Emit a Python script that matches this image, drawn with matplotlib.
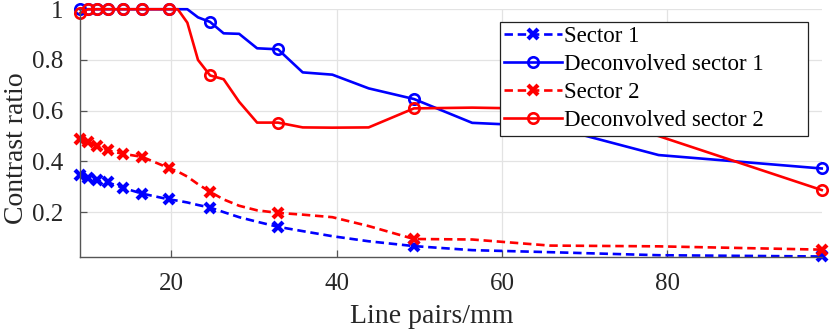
#!/usr/bin/env python3
"""Contrast ratio vs line pairs/mm for raw and deconvolved sectors."""

import matplotlib

matplotlib.use("Agg")

import matplotlib.pyplot as plt
from matplotlib.ticker import FormatStrFormatter

# sample positions (line pairs/mm); markers only on the main resolution steps
lp_mm = [8.97, 9.87, 10.97, 12.34, 14.10, 16.45, 19.74, 20.77, 21.93, 23.22,
         24.68, 26.32, 28.20, 30.37, 32.90, 35.89, 39.48, 43.87, 49.35, 56.40,
         65.80, 78.96, 98.70]
marker_idx = [0, 1, 2, 3, 4, 5, 6, 10, 14, 18, 22]

sector1 = [0.345, 0.335, 0.325, 0.317, 0.296, 0.273, 0.250, 0.245, 0.238, 0.228,
           0.218, 0.200, 0.180, 0.162, 0.142, 0.125, 0.105, 0.085, 0.066, 0.050,
           0.042, 0.030, 0.025]
deconv1 = [1.0, 1.0, 1.0, 1.0, 1.0, 1.0, 1.0, 1.0, 1.0, 0.968,
           0.950, 0.905, 0.903, 0.846, 0.842, 0.751, 0.742, 0.688, 0.646, 0.552,
           0.538, 0.425, 0.372]
sector2 = [0.490, 0.478, 0.460, 0.443, 0.430, 0.418, 0.373, 0.360, 0.340, 0.310,
           0.280, 0.250, 0.225, 0.207, 0.197, 0.190, 0.180, 0.145, 0.094, 0.092,
           0.068, 0.065, 0.052]
deconv2 = [0.985, 1.0, 1.0, 1.0, 1.0, 1.0, 1.0, 1.0, 0.947, 0.800,
           0.739, 0.724, 0.635, 0.553, 0.553, 0.534, 0.533, 0.534, 0.609, 0.612,
           0.607, 0.500, 0.287]

series = [
    ("Sector 1", sector1, "#0000ff", "--", "x"),
    ("Deconvolved sector 1", deconv1, "#0000ff", "-", "o"),
    ("Sector 2", sector2, "#ff0000", "--", "x"),
    ("Deconvolved sector 2", deconv2, "#ff0000", "-", "o"),
]

plt.rcParams["font.family"] = ["Liberation Serif", "DejaVu Serif"]

fig = plt.figure(figsize=(8.3, 3.3), dpi=100)
ax = fig.add_axes([0.096, 0.222, 0.894, 0.750])

for label, y, color, ls, mk in series:
    line, = ax.plot(lp_mm, y, color=color, linestyle=ls, linewidth=1.9,
                    marker=mk, markevery=marker_idx, clip_on=False,
                    markerfacecolor="none" if mk == "o" else color,
                    markersize=7.5 if mk == "o" else 6.5,
                    markeredgewidth=1.9 if mk == "o" else 3.0,
                    label=label)
    if ls == "--":
        line.set_dashes((3.2, 1.8))

ax.set_xlim(8.9, 98.7)
ax.set_ylim(0.024, 1.0)
ax.set_xticks([20, 40, 60, 80])
ax.set_yticks([0.2, 0.4, 0.6, 0.8, 1.0])
ax.yaxis.set_major_formatter(FormatStrFormatter("%g"))
ax.grid(True, color="#e3e3e3", linewidth=0.9)
ax.set_axisbelow(True)

for side in ("top", "right"):
    ax.spines[side].set_visible(False)
for side in ("left", "bottom"):
    ax.spines[side].set_color("#555555")
    ax.spines[side].set_linewidth(1.0)

ax.tick_params(direction="in", length=5, width=0.9, color="#555555",
               labelsize=18, labelcolor="#262626")
ax.tick_params(axis="x", pad=12)
ax.tick_params(axis="y", pad=12)
ax.set_xlabel("Line pairs/mm", fontsize=20, color="#262626")
ax.set_ylabel("Contrast ratio", fontsize=20, color="#262626")
ax.xaxis.set_label_coords(0.475, -0.19)
ax.yaxis.set_label_coords(-0.068, 0.44)

leg = ax.legend(loc="upper left", bbox_to_anchor=(0.566, 0.0, 0.415, 0.949),
                mode="expand", borderaxespad=0,
                fontsize=16.5, fancybox=False, framealpha=1, edgecolor="#222222",
                handlelength=2.5, handletextpad=0.1, labelspacing=0.3,
                borderpad=0.2)
leg.get_frame().set_linewidth(0.9)

fig.savefig("out.png", dpi=100)
